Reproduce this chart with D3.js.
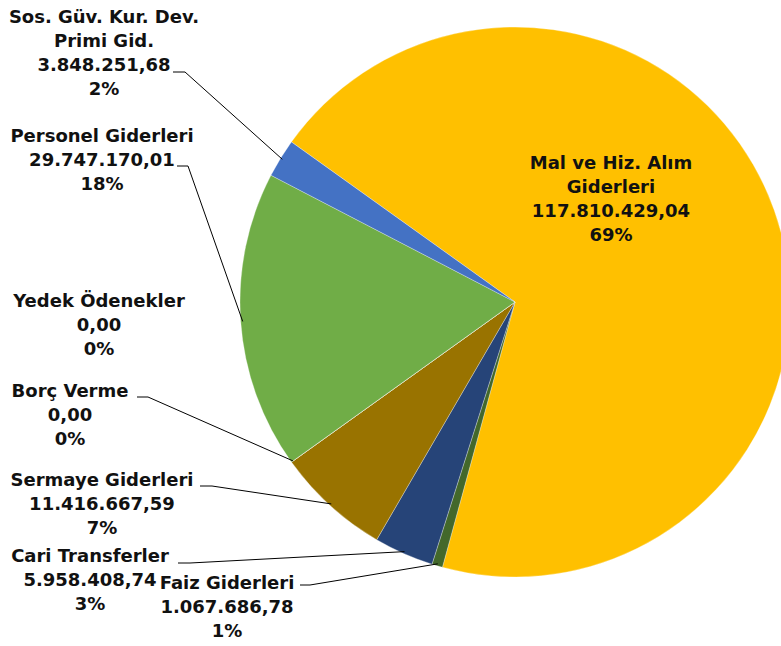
<!DOCTYPE html>
<html><head><meta charset="utf-8">
<script src="https://cdn.jsdelivr.net/npm/d3@7"></script>
<style>html,body{margin:0;padding:0;background:#fff;overflow:hidden}</style>
</head><body>
<svg id="chart" width="781" height="646"></svg>
<script>
// Data (clockwise order starting from "Mal ve Hiz. Alım Giderleri")
const categories = ["Mal ve Hiz. Alım Giderleri","Faiz Giderleri","Cari Transferler","Sermaye Giderleri","Borç Verme","Yedek Ödenekler","Personel Giderleri","Sos. Güv. Kur. Dev. Primi Gid."];
const labelLines = [["Mal ve Hiz. Alım","Giderleri"],["Faiz Giderleri"],["Cari Transferler"],["Sermaye Giderleri"],["Borç Verme"],["Yedek Ödenekler"],["Personel Giderleri"],["Sos. Güv. Kur. Dev.","Primi Gid."]];
const values = [117810429.04, 1067686.78, 5958408.74, 11416667.59, 0, 0, 29747170.01, 3848251.68];
const valueLabels = ["117.810.429,04","1.067.686,78","5.958.408,74","11.416.667,59","0,00","0,00","29.747.170,01","3.848.251,68"];
const percentLabels = ["69%","1%","3%","7%","0%","0%","18%","2%"];
const colors = ["#FFC000","#43682B","#264478","#997300","#9E480E","#636363","#70AD47","#4472C4"];

// Layout (label anchors: center x, first baseline y; leader start)
const layout = [
  {x:611, y:169, leader:null},
  {x:227, y:589, leader:[[300,585],[310,585]]},
  {x:90,  y:562, leader:[[178,563],[190,563]]},
  {x:102, y:486, leader:[[200,486],[212,486]]},
  {x:70,  y:397, leader:[[137,397],[148,397]]},
  {x:99,  y:307, leader:null},
  {x:102, y:142, leader:[[177,166],[188,166]]},
  {x:104, y:23,  leader:[[173,72],[185,72]]}
];

const cx = 515, cy = 302, R = 275;
const svg = d3.select("#chart");
const g = svg.append("g").attr("transform",`translate(${cx},${cy})`);
const start = 305.6*Math.PI/180;
const pie = d3.pie().sort(null).value(d=>d).startAngle(start).endAngle(start+2*Math.PI);
const arcs = pie(values);
const arc = d3.arc().innerRadius(0).outerRadius(R);

g.selectAll("path.slice").data(arcs).join("path")
  .attr("class","slice")
  .attr("d",arc)
  .attr("fill",(d,i)=>colors[i])
  .attr("stroke","#fff").attr("stroke-width",0.3);

// leader lines
arcs.forEach((d,i)=>{
  const L = layout[i];
  if(!L.leader) return;
  const a = (d.startAngle+d.endAngle)/2;
  const ex = cx + Math.sin(a)*(R-2), ey = cy - Math.cos(a)*(R-2);
  const pts = L.leader.concat([[ex,ey]]);
  svg.append("path").attr("d",d3.line()(pts)).attr("fill","none").attr("stroke","#000").attr("stroke-width",1);
});

// labels
const lh = 24;
arcs.forEach((d,i)=>{
  const L = layout[i];
  const lines = labelLines[i].concat([valueLabels[i], percentLabels[i]]);
  const t = svg.append("text").attr("x",L.x).attr("y",L.y)
    .attr("text-anchor","middle")
    .style("font-family","'DejaVu Sans', sans-serif").style("font-weight","700").style("font-size","18px").attr("fill","#111");
  lines.forEach((s,k)=>{
    t.append("tspan").attr("x",L.x).attr("y",L.y+k*lh).text(s);
  });
});
</script>
</body></html>
